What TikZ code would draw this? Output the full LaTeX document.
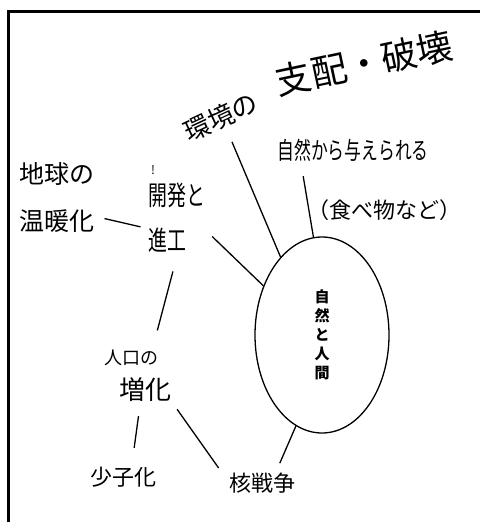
\documentclass[tikz,border=0pt]{standalone}
\usepackage{fontspec}
\usetikzlibrary{shapes.geometric}
\newfontfamily\jpfont{Noto Sans CJK JP}
\newfontfamily\jpnarrow[FakeStretch=0.7]{Noto Sans CJK JP}
\newcommand{\handsize}[2]{\jpfont\fontsize{#1}{#2}\selectfont}
\newcommand{\narrowsize}[2]{\jpnarrow\fontsize{#1}{#2}\selectfont}

\begin{document}
\begin{tikzpicture}[x=1pt, y=-1pt]
  \tikzset{every node/.style={inner sep=3pt},
    link/.style={line width=1.3pt},
    hub/.style={ellipse, draw, line width=1.3pt, align=center}}
  \useasboundingbox (0,0) rectangle (486,522);
  \draw[line width=3pt] (480,11.5) -- (8.5,11.5) -- (8.5,522);
  \node[hub, minimum width=134pt, minimum height=196pt,
    font={\handsize{15}{19}\bfseries}] (nature) at (322,335) {自\\然\\と\\人\\間};
  \node[rotate=25, inner sep=0pt, font={\handsize{26}{26}}] (envhead) at (221,117) {環境の};
  \node[rotate=12, inner sep=0pt, font={\handsize{36}{36}}] (envrule) at (364,63) {支配・破壊};
  \node[font={\narrowsize{24}{24}}] (give) at (353,150) {自然から与えられる};
  \node[font={\handsize{22}{22}}] (food) at (384,210) {（食べ物など）};
  \node[align=center, font={\handsize{25}{47}}] (warm) at (57,198) {地球の\\温暖化};
  \node[font={\handsize{12}{12}}] (bang) at (153,170) {!};
  \node[align=left, font={\narrowsize{27}{45}}] (devel) at (177,218) {開発と\\進工};
  \node[font={\handsize{18}{18}}] (pophead) at (131,358) {人口の};
  \node[font={\handsize{26}{26}}] (poprise) at (145,390) {増化};
  \node[font={\handsize{22}{22}}] (fewer) at (123,477) {少子化};
  \node[font={\handsize{22}{22}}] (nuclear) at (262,483) {核戦争};
  \draw[link, shorten <=15pt] (envhead.south) -- (nature.118);
  \draw[link, shorten <=12pt] ([xshift=27pt]give.south west) -- (nature.95);
  \draw[link, shorten <=7pt, shorten >=5pt] ([yshift=-19pt]warm.east) -- ([yshift=-10pt]devel.west);
  \draw[link, shorten <=5pt] ([yshift=-15pt]devel.east) -- (nature.140);
  \draw[link, shorten <=16pt, shorten >=17pt] (devel.south) -- ([xshift=22pt]pophead.north);
  \draw[link, shorten <=11pt, shorten >=16pt] ([xshift=-5pt]poprise.south) -- ([xshift=9pt]fewer.north);
  \draw[link, shorten <=5pt, shorten >=2pt] (poprise.south east) -- ([xshift=-6pt]nuclear.north west);
  \draw[link, shorten >=7pt] (nature.254) -- ([xshift=15pt]nuclear.north);
\end{tikzpicture}
\end{document}
